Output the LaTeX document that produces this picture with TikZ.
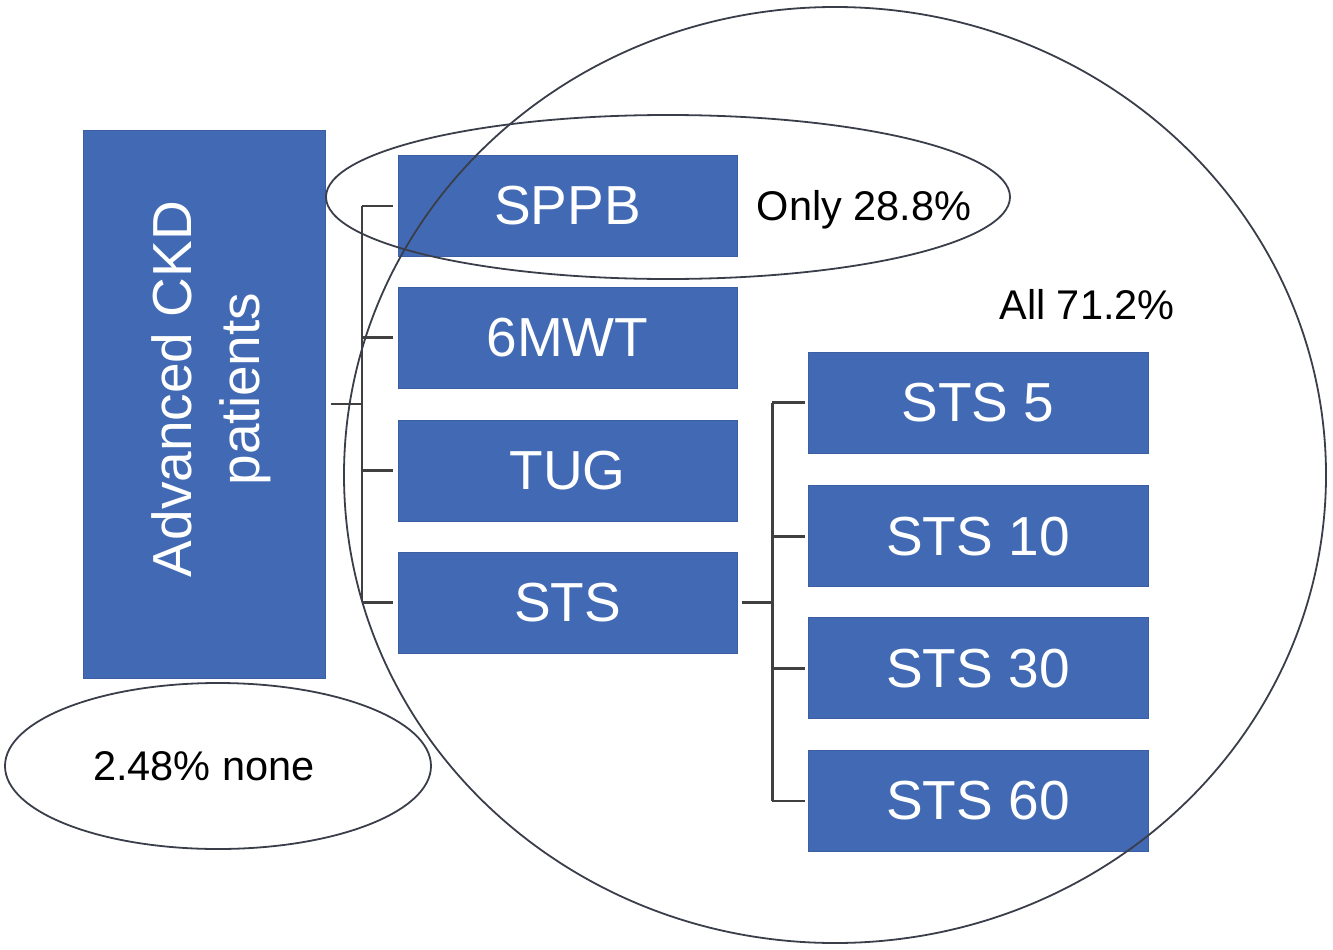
\documentclass[tikz,border=0pt]{standalone}
\usepackage{fontspec}
\setmainfont{Liberation Sans}
\usepackage{xcolor}
\usetikzlibrary{positioning}

\definecolor{boxblue}{RGB}{66,106,180}
\definecolor{linegray}{RGB}{64,64,64}
\definecolor{ringgray}{RGB}{58,62,74}

\begin{document}
\begin{tikzpicture}[x=1pt, y=-1pt]
\tikzstyle{testbox} = [rectangle, draw=boxblue!90!black, line width=0.8pt, fill=boxblue, text=white, minimum width=339pt, minimum height=101pt, inner sep=0pt, font=\fontsize{55}{66}\selectfont]
\tikzstyle{tree} = [line width=2.8pt, linegray]
\tikzstyle{ring} = [line width=1.8pt, ringgray]
\tikzstyle{note} = [font=\fontsize{41.5}{50}\selectfont, inner sep=0pt]

\useasboundingbox (0,0) rectangle (1333,950);

% patients box
\node (ckd) [testbox, minimum width=242pt, minimum height=548pt] at (204.5,404) {};
\node (ckdlabel) [rotate=90, text=white, align=center, font=\fontsize{55}{68}\selectfont] at ([xshift=7pt, yshift=15pt]ckd.center) {Advanced CKD\\patients};

% tests
\node (sppb) [testbox] at (567.5,206) {SPPB};
\node (mwt) [testbox, below=30pt of sppb] {6MWT};
\node (tug) [testbox, below=31pt of mwt] {TUG};
\node (sts) [testbox, below=30pt of tug] {STS};

% sit-to-stand variants
\node (sts5) [testbox, minimum width=340pt] at (978,402.5) {STS 5};
\node (sts10) [testbox, minimum width=340pt, below=32pt of sts5] {STS 10};
\node (sts30) [testbox, minimum width=340pt, below=30pt of sts10] {STS 30};
\node (sts60) [testbox, minimum width=340pt, below=31pt of sts30] {STS 60};

% brackets
\coordinate (lbus) at ([xshift=36pt]ckd.east);
\coordinate (rbus) at ([xshift=35pt]sts.east);
\draw [tree] ([xshift=5pt]ckd.east) -- (lbus);
\draw [tree] (lbus |- sppb) -- (lbus |- sts);
\foreach \n in {sppb, mwt, tug, sts}
  \draw [tree] (lbus |- \n) -- ([xshift=-5pt]\n.west);
\draw [tree] ([xshift=5pt]sts.east) -- (rbus);
\draw [tree] (rbus |- sts5) -- (rbus |- sts60);
\foreach \n in {sts5, sts10, sts30, sts60}
  \draw [tree] (rbus |- \n) -- ([xshift=-3pt]\n.west);

% groups
\draw [ring] (835,475) ellipse [x radius=491, y radius=468];
\draw [ring] (668,197) ellipse [x radius=342, y radius=82];
\draw [ring] (218,766) ellipse [x radius=213, y radius=83];

\node (only) [note] at (864,210) {Only 28.8\%};
\node (all) [note] at (1087,305) {All 71.2\%};
\node (none) [note] at (204,766) {2.48\% none};

\end{tikzpicture}
\end{document}
